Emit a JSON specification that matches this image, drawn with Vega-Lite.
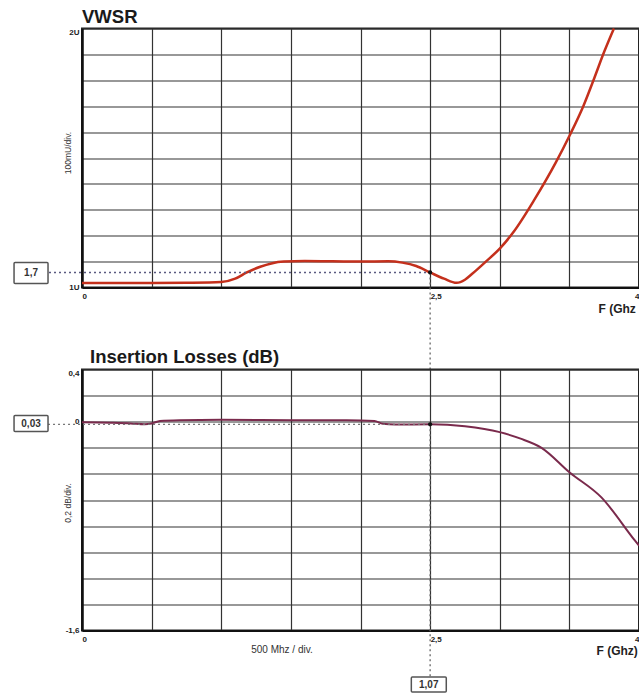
{
  "$schema": "https://vega.github.io/schema/vega-lite/v6.json",
  "background": "white",
  "padding": {"left": 12, "top": 6.5, "right": 0, "bottom": 0},
  "autosize": {"type": "pad"},
  "spacing": 82,
  "bounds": "flush",
  "config": {
    "font": "Liberation Sans",
    "view": {"stroke": "#222222", "strokeWidth": 2},
    "axis": {
      "grid": true, "gridColor": "#333333", "gridWidth": 1.2, "gridOpacity": 1,
      "ticks": false, "domain": false,
      "labelFont": "Liberation Sans", "labelFontSize": 8, "labelFontWeight": "bold", "labelColor": "#222222",
      "labelOverlap": false, "labelFlush": false,
      "titleFont": "Liberation Sans", "titleColor": "#222222"
    },
    "title": {"font": "Liberation Sans", "fontSize": 18.5, "fontWeight": "bold", "color": "#1a1a1a", "anchor": "start", "frame": "group"}
  },
  "datasets": {
    "vswr": [
      {"f": 0, "v": 1.017}, {"f": 0.25, "v": 1.017}, {"f": 0.5, "v": 1.017}, {"f": 0.75, "v": 1.018},
      {"f": 1.0, "v": 1.021}, {"f": 1.1, "v": 1.034}, {"f": 1.18, "v": 1.057}, {"f": 1.28, "v": 1.08},
      {"f": 1.36, "v": 1.093}, {"f": 1.45, "v": 1.1}, {"f": 1.6, "v": 1.102}, {"f": 1.8, "v": 1.101},
      {"f": 2.0, "v": 1.1}, {"f": 2.2, "v": 1.101}, {"f": 2.3, "v": 1.096}, {"f": 2.4, "v": 1.083},
      {"f": 2.5, "v": 1.058}, {"f": 2.6, "v": 1.034}, {"f": 2.69, "v": 1.018}, {"f": 2.75, "v": 1.03},
      {"f": 2.8, "v": 1.052}, {"f": 2.9, "v": 1.1}, {"f": 3.0, "v": 1.15}, {"f": 3.1, "v": 1.215},
      {"f": 3.25, "v": 1.34}, {"f": 3.4, "v": 1.48}, {"f": 3.5, "v": 1.585}, {"f": 3.6, "v": 1.7},
      {"f": 3.68, "v": 1.81}, {"f": 3.75, "v": 1.91}, {"f": 3.82, "v": 2.0}
    ],
    "il": [
      {"f": 0, "v": -0.005}, {"f": 0.2, "v": -0.008}, {"f": 0.35, "v": -0.013}, {"f": 0.45, "v": -0.02},
      {"f": 0.5, "v": -0.014}, {"f": 0.56, "v": 0.006}, {"f": 0.7, "v": 0.012}, {"f": 1.0, "v": 0.015},
      {"f": 1.5, "v": 0.012}, {"f": 2.0, "v": 0.01}, {"f": 2.1, "v": 0.006}, {"f": 2.16, "v": -0.015},
      {"f": 2.25, "v": -0.021}, {"f": 2.5, "v": -0.02}, {"f": 2.75, "v": -0.035}, {"f": 3.0, "v": -0.08},
      {"f": 3.15, "v": -0.13}, {"f": 3.3, "v": -0.2}, {"f": 3.5, "v": -0.387}, {"f": 3.73, "v": -0.58},
      {"f": 3.97, "v": -0.91}, {"f": 4.0, "v": -0.95}
    ],
    "top_hline": [{"f": -0.237, "f2": 2.5, "v": 1.058}],
    "top_vline": [{"f": 2.5, "v": 1.058, "v2": 0.683}],
    "top_marker": [{"f": 2.5, "v": 1.058}],
    "top_box": [{"f": -0.488, "f2": -0.244, "v": 1.0965, "v2": 1.0154}],
    "top_label": [{"f": -0.366, "v": 1.056, "label": "1,7"}],
    "bot_hline": [{"f": -0.244, "f2": 2.5, "v": -0.02}],
    "bot_vline": [{"f": 2.5, "v": -0.02, "v2": -1.957}],
    "bot_marker": [{"f": 2.5, "v": -0.02}],
    "bot_box": [
      {"f": -0.488, "f2": -0.244, "v": 0.0475, "v2": -0.075},
      {"f": 2.365, "f2": 2.616, "v": -1.957, "v2": -2.072}
    ],
    "bot_label": [
      {"f": -0.366, "v": -0.014, "label": "0,03"},
      {"f": 2.49, "v": -2.016, "label": "1,07"}
    ],
    "bot_note": [{"f": 1.436, "v": -1.753, "label": "500 Mhz / div."}]
  },
  "vconcat": [
    {
      "width": 557,
      "height": 259,
      "title": {"text": "VWSR", "offset": -2.5, "dx": 0},
      "encoding": {
        "x": {
          "field": "f", "type": "quantitative",
          "scale": {"domain": [0, 4], "nice": false, "zero": false},
          "axis": {
            "values": [0, 0.5, 1, 1.5, 2, 2.5, 3, 3.5, 4],
            "labelExpr": "datum.value == 0 ? '0' : datum.value == 2.5 ? '2,5' : datum.value == 4 ? '4' : ''",
            "labelAlign": {"condition": {"test": "datum.value == 4", "value": "right"}, "value": "left"},
            "labelBaseline": "top", "labelPadding": 5,
            "domain": true, "domainColor": "#111111", "domainWidth": 2,
            "title": "F (Ghz", "titleFontSize": 12, "titleFontWeight": "bold",
            "titleX": 516, "titleY": 25, "titleAlign": "left", "titleBaseline": "alphabetic", "titleAnchor": "start"
          }
        },
        "y": {
          "field": "v", "type": "quantitative",
          "scale": {"domain": [1, 2], "nice": false, "zero": false},
          "axis": {
            "values": [1, 1.1, 1.2, 1.3, 1.4, 1.5, 1.6, 1.7, 1.8, 1.9, 2],
            "labelExpr": "datum.value == 1 ? '1U' : datum.value == 2 ? '2U' : ''",
            "labelBaseline": {"condition": {"test": "datum.value == 2", "value": "top"}, "value": "middle"},
            "labelPadding": 3,
            "domain": true, "domainColor": "#111111", "domainWidth": 2.5,
            "title": "100mU/div.", "titleFontSize": 8.5, "titleFontWeight": "normal", "titleColor": "#333333",
            "titleX": -15, "titleY": 124, "titleBaseline": "middle", "titleAlign": "center", "titleAngle": 270
          }
        }
      },
      "layer": [
        {
          "data": {"name": "vswr"},
          "mark": {"type": "line", "color": "#c4301c", "strokeWidth": 2.5, "interpolate": "monotone"}
        },
        {
          "data": {"name": "top_hline"},
          "mark": {"type": "rule", "color": "#5a5a80", "strokeDash": [2, 3], "strokeWidth": 1.3},
          "encoding": {"x2": {"field": "f2"}}
        },
        {
          "data": {"name": "top_vline"},
          "mark": {"type": "rule", "color": "#666666", "strokeDash": [2, 3], "strokeWidth": 1.3},
          "encoding": {"y2": {"field": "v2"}}
        },
        {
          "data": {"name": "top_box"},
          "mark": {"type": "rect", "fill": "white", "stroke": "#555555", "strokeWidth": 1.5, "cornerRadius": 1},
          "encoding": {"x2": {"field": "f2"}, "y2": {"field": "v2"}}
        },
        {
          "data": {"name": "top_label"},
          "mark": {"type": "text", "font": "Liberation Sans", "fontSize": 10, "fontWeight": "bold", "color": "#333333", "align": "center", "baseline": "middle"},
          "encoding": {"text": {"field": "label"}}
        },
        {
          "data": {"name": "top_marker"},
          "mark": {"type": "point", "filled": true, "color": "#111111", "size": 18, "opacity": 1}
        }
      ]
    },
    {
      "width": 557,
      "height": 261,
      "title": {"text": "Insertion Losses (dB)", "offset": 3, "dx": 8},
      "encoding": {
        "x": {
          "field": "f", "type": "quantitative",
          "scale": {"domain": [0, 4], "nice": false, "zero": false},
          "axis": {
            "values": [0, 0.5, 1, 1.5, 2, 2.5, 3, 3.5, 4],
            "labelExpr": "datum.value == 0 ? '0' : datum.value == 2.5 ? '2,5' : datum.value == 4 ? '4' : ''",
            "labelAlign": {"condition": {"test": "datum.value == 4", "value": "right"}, "value": "left"},
            "labelBaseline": "top", "labelPadding": 5,
            "domain": true, "domainColor": "#111111", "domainWidth": 2,
            "title": "F (Ghz)", "titleFontSize": 12, "titleFontWeight": "bold",
            "titleX": 514, "titleY": 24, "titleAlign": "left", "titleBaseline": "alphabetic", "titleAnchor": "start"
          }
        },
        "y": {
          "field": "v", "type": "quantitative",
          "scale": {"domain": [-1.6, 0.4], "nice": false, "zero": false},
          "axis": {
            "values": [0.4, 0.2, 0, -0.2, -0.4, -0.6, -0.8, -1, -1.2, -1.4, -1.6],
            "labelExpr": "datum.value == 0.4 ? '0,4' : datum.value == 0 ? '0' : datum.value == -1.6 ? '-1,6' : ''",
            "labelBaseline": {"condition": {"test": "datum.value == 0.4", "value": "top"}, "value": "middle"},
            "labelPadding": 3,
            "domain": true, "domainColor": "#111111", "domainWidth": 2.5,
            "title": "0,2 dB/div.", "titleFontSize": 8.5, "titleFontWeight": "normal", "titleColor": "#333333",
            "titleX": -15, "titleY": 133, "titleBaseline": "middle", "titleAlign": "center", "titleAngle": 270
          }
        }
      },
      "layer": [
        {
          "data": {"name": "il"},
          "mark": {"type": "line", "color": "#7a2a4c", "strokeWidth": 2, "interpolate": "monotone"}
        },
        {
          "data": {"name": "bot_hline"},
          "mark": {"type": "rule", "color": "#777777", "strokeDash": [2, 3], "strokeWidth": 1.3},
          "encoding": {"x2": {"field": "f2"}}
        },
        {
          "data": {"name": "bot_vline"},
          "mark": {"type": "rule", "color": "#666666", "strokeDash": [2, 3], "strokeWidth": 1.3},
          "encoding": {"y2": {"field": "v2"}}
        },
        {
          "data": {"name": "bot_box"},
          "mark": {"type": "rect", "fill": "white", "stroke": "#555555", "strokeWidth": 1.5, "cornerRadius": 1},
          "encoding": {"x2": {"field": "f2"}, "y2": {"field": "v2"}}
        },
        {
          "data": {"name": "bot_label"},
          "mark": {"type": "text", "font": "Liberation Sans", "fontSize": 10, "fontWeight": "bold", "color": "#333333", "align": "center", "baseline": "middle"},
          "encoding": {"text": {"field": "label"}}
        },
        {
          "data": {"name": "bot_note"},
          "mark": {"type": "text", "font": "Liberation Sans", "fontSize": 10, "color": "#333333", "align": "center", "baseline": "middle"},
          "encoding": {"text": {"field": "label"}}
        },
        {
          "data": {"name": "bot_marker"},
          "mark": {"type": "point", "filled": true, "color": "#111111", "size": 18, "opacity": 1}
        }
      ]
    }
  ]
}
